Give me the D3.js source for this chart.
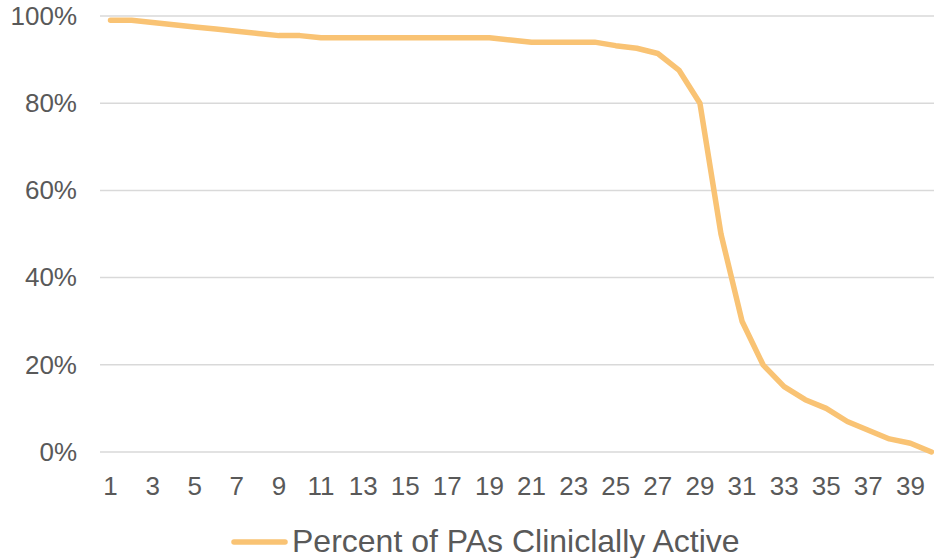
<!DOCTYPE html>
<html>
<head>
<meta charset="utf-8">
<script src="https://cdn.jsdelivr.net/npm/d3@7"></script>
<style>
  html, body { margin: 0; padding: 0; background: #fff; }
  svg { display: block; font-family: "Liberation Sans", Arial, sans-serif; }
</style>
</head>
<body>
<svg id="chart" width="934" height="558"></svg>
<script>
// ---- data ----
const categories = d3.range(1, 41);
const percentActive = [
  99, 99, 98.5, 98, 97.5, 97, 96.5, 96, 95.5, 95.5,
  95, 95, 95, 95, 95, 95, 95, 95, 95, 94.5,
  94, 94, 94, 94, 93.2, 92.6, 91.4, 87.6, 80, 50,
  30, 20, 15, 12, 10, 7, 5, 3, 2, 0
];
const yTicks = [0, 20, 40, 60, 80, 100];
const seriesName = "Percent of PAs Cliniclally Active";

// ---- layout ----
const svg = d3.select("#chart");
const plotLeft = 100, plotRight = 942, plotTop = 16, plotBottom = 452;

const x = d3.scaleBand().domain(categories).range([plotLeft, plotRight]).padding(0);
const y = d3.scaleLinear().domain([0, 100]).range([plotBottom, plotTop]);
const cx = d => x(d) + x.bandwidth() / 2;

// gridlines
svg.append("g")
  .selectAll("line")
  .data(yTicks)
  .join("line")
  .attr("x1", plotLeft).attr("x2", plotRight)
  .attr("y1", d => y(d)).attr("y2", d => y(d))
  .attr("stroke", "#d9d9d9").attr("stroke-width", 1.5);

// y axis labels
const yAxis = d3.axisLeft(y).tickValues(yTicks).tickFormat(d => d + "%").tickSize(0).tickPadding(0);
const gy = svg.append("g").attr("transform", `translate(77,0)`).call(yAxis);
gy.select(".domain").remove();
gy.selectAll("text").attr("fill", "#595959").attr("font-size", 26)
  .attr("font-family", "Liberation Sans, Arial, sans-serif");

// x axis labels (every other)
const xAxis = d3.axisBottom(x).tickValues(categories.filter(d => d % 2 === 1)).tickSize(0).tickPadding(0);
const gx = svg.append("g").attr("transform", `translate(0,${plotBottom})`).call(xAxis);
gx.select(".domain").remove();
gx.selectAll("text").attr("fill", "#595959").attr("font-size", 26)
  .attr("font-family", "Liberation Sans, Arial, sans-serif")
  .attr("dy", null).attr("y", 43);

// line
const line = d3.line().x((d, i) => cx(categories[i])).y(d => y(d));
svg.append("path")
  .datum(percentActive)
  .attr("d", line)
  .attr("fill", "none")
  .attr("stroke", "#F9C374")
  .attr("stroke-width", 5.5)
  .attr("stroke-linejoin", "round")
  .attr("stroke-linecap", "round");

// legend
const lg = svg.append("g");
lg.append("line")
  .attr("x1", 234).attr("x2", 285).attr("y1", 542).attr("y2", 542)
  .attr("stroke", "#F9C374").attr("stroke-width", 5.5).attr("stroke-linecap", "round");
lg.append("text")
  .attr("x", 292).attr("y", 552)
  .attr("fill", "#595959").attr("font-size", 32)
  .text(seriesName);
</script>
</body>
</html>
